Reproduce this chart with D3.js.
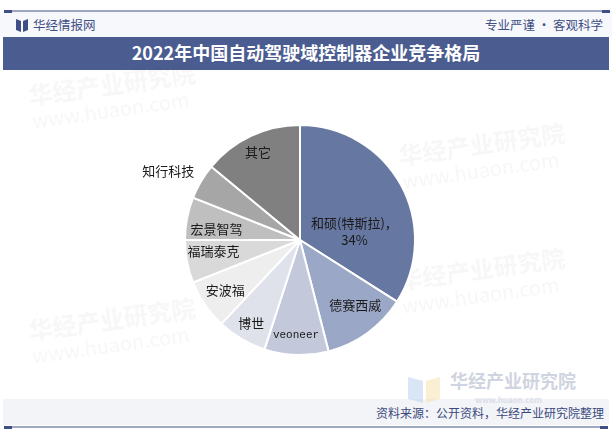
<!DOCTYPE html>
<html><head><meta charset="utf-8">
<script src="https://cdn.jsdelivr.net/npm/d3@7"></script>
<style>html,body{margin:0;padding:0;background:#fff}svg{display:block}</style>
</head><body>
<svg id="c" width="612" height="432"></svg>
<script>
const companies = ["和硕(特斯拉)", "德赛西威", "veoneer", "博世", "安波福", "福瑞泰克", "宏景智驾", "知行科技", "其它"];
const shares = [34, 12, 9, 7, 7, 6, 6, 5, 14];
const sliceColors = ["#6677a1", "#9ba7c6", "#c3c9db", "#dfe2eb", "#eeeeee", "#d9d9d9", "#bfbfbf", "#a6a6a6", "#808080"];
const title = "2022年中国自动驾驶域控制器企业竞争格局";
const source = "资料来源：公开资料，华经产业研究院整理";

const svg = d3.select("#c");
const W = 612, H = 432;
const cjk = "'Noto Sans CJK SC','Noto Sans',sans-serif";

// header
svg.append("rect").attr("x",0).attr("y",11).attr("width",W).attr("height",26).attr("fill","#f7f8fb");
svg.append("line").attr("x1",4).attr("x2",608).attr("y1",11).attr("y2",11).attr("stroke","#3f4f86").attr("stroke-width",1.2);
svg.append("rect").attr("x",4).attr("y",10).attr("width",8).attr("height",3).attr("fill","#3f4f86");
svg.append("rect").attr("x",602).attr("y",10).attr("width",8).attr("height",3).attr("fill","#3f4f86");
svg.append("path").attr("d","M16 19 L21 21 L21 32 L16 30 Z").attr("fill","#3f4f86");
svg.append("path").attr("d","M23 21 L28 19 L28 30 L23 32 Z").attr("fill","#3f4f86");
svg.append("text").attr("x",33).attr("y",30).attr("font-family",cjk).attr("font-size",12.5).attr("fill","#3f4f86").text("华经情报网");
svg.append("text").attr("x",603).attr("y",30).attr("text-anchor","end").attr("font-family",cjk).attr("font-size",12.5).attr("fill","#3f4f86").text("专业严谨 • 客观科学");

svg.append("rect").attr("x",3).attr("y",37).attr("width",606).attr("height",33).attr("fill","#4b5d90");
svg.append("text").attr("x",W/2).attr("y",60).attr("text-anchor","middle").attr("font-family","'Noto Sans CJK SC',sans-serif").attr("font-weight","bold").attr("font-size",18).attr("fill","#fff").text(title);

// watermarks
const wm = svg.append("g").attr("opacity",0.04).attr("fill","#333").attr("font-family",cjk).attr("font-weight","bold");
[[30,105],[30,340],[400,165],[400,290]].forEach(([x,y])=>{
  const g = wm.append("g").attr("transform",`translate(${x},${y}) rotate(-8)`);
  g.append("text").attr("font-size",24).text("华经产业研究院");
  g.append("text").attr("y",24).attr("font-size",20).attr("font-weight","normal").text("www.huaon.com");
});

// footer
svg.append("rect").attr("x",3).attr("y",399).attr("width",606).attr("height",26).attr("fill","#f3f4f8");
svg.append("line").attr("x1",4).attr("x2",608).attr("y1",427).attr("y2",427).attr("stroke","#3f4f86").attr("stroke-width",1.2);
svg.append("rect").attr("x",4).attr("y",426).attr("width",8).attr("height",3).attr("fill","#3f4f86");
svg.append("rect").attr("x",600).attr("y",426).attr("width",8).attr("height",3).attr("fill","#3f4f86");
const fl = svg.append("g").attr("opacity",0.55);
fl.append("path").attr("d","M408 377 L423 381 L423 403 L408 399 Z").attr("fill","#bcd3f0");
fl.append("path").attr("d","M426 381 L440 377 L440 399 L426 403 Z").attr("fill","#f7e3b0");
fl.append("text").attr("x",450).attr("y",388).attr("font-family",cjk).attr("font-weight","bold").attr("font-size",18).attr("fill","#aab2c8").text("华经产业研究院");
fl.append("text").attr("x",475).attr("y",403).attr("font-family",cjk).attr("font-weight","bold").attr("font-size",8).attr("fill","#c6ccdb").text("www.huaon.com");
svg.append("text").attr("x",604).attr("y",418).attr("text-anchor","end").attr("font-family",cjk).attr("font-size",12).attr("fill","#3a4a7d").text(source);

// pie
const cx = 300, cy = 240, R = 115;
const pie = d3.pie().sort(null).value(d=>d)(shares);
const arc = d3.arc().innerRadius(0).outerRadius(R);
const g = svg.append("g").attr("transform",`translate(${cx},${cy})`);
g.selectAll("path").data(pie).join("path")
  .attr("d",arc).attr("fill",(d,i)=>sliceColors[i]).attr("stroke","#fff").attr("stroke-width",2);

// labels: radius fraction and angular offset (degrees) from slice middle
const labelR = [0.48,0.75,0.83,0.85,0.79,0.76,0.73,1.29,0.84];
const labelDA = [19.5,-3.8,0.6,-0.6,-0.5,2.3,-4.6,-3.3,-0.6];
pie.forEach((d,i)=>{
  const a = (d.startAngle + d.endAngle)/2 + labelDA[i]*Math.PI/180;
  const r = R*labelR[i];
  const x = r*Math.sin(a), y = -r*Math.cos(a);
  const t = g.append("text").attr("x",x).attr("y",y).attr("text-anchor","middle").attr("dominant-baseline","middle")
    .attr("fill","#1a1a1a").attr("font-size",13).attr("font-family",cjk);
  if (i===0) {
    t.attr("dominant-baseline",null);
    t.append("tspan").attr("x",x).attr("dy","-0.25em").text(companies[i]+"，");
    t.append("tspan").attr("x",x).attr("dy","1.35em").text(shares[i]+"%");
  } else if (companies[i]==="veoneer") {
    t.attr("font-family","'Liberation Mono','DejaVu Sans Mono',monospace").attr("font-size",11).text(companies[i]);
  } else {
    t.text(companies[i]);
  }
});
</script>
</body></html>
